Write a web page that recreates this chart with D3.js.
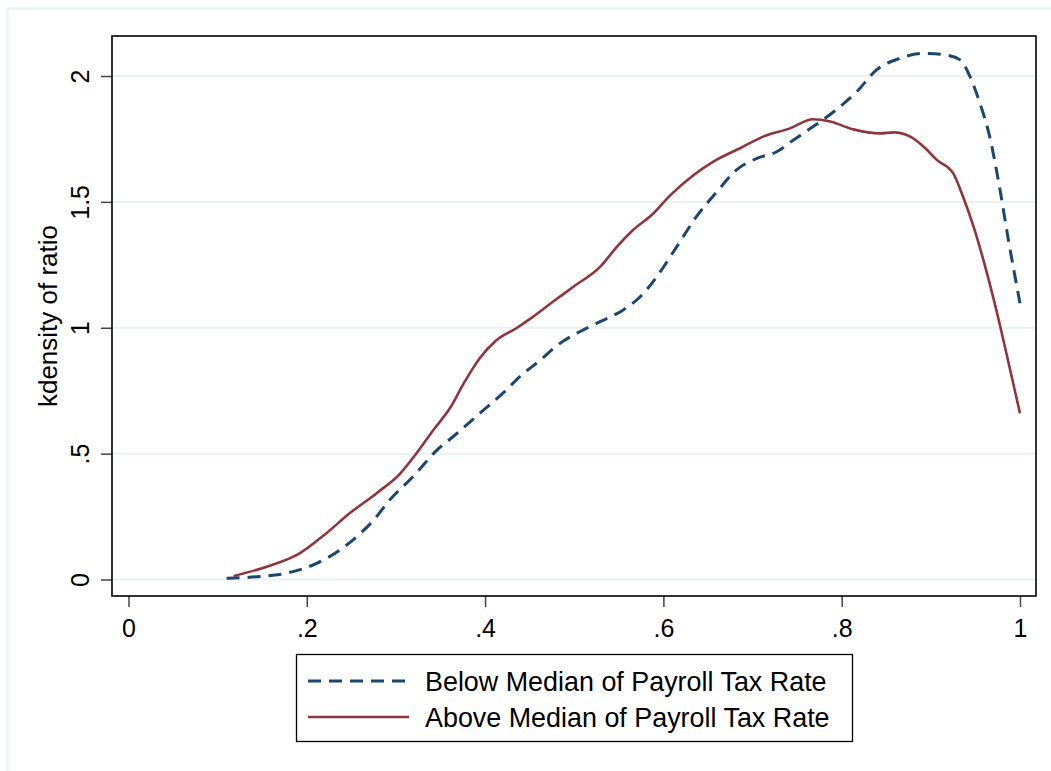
<!DOCTYPE html>
<html>
<head>
<meta charset="utf-8">
<script src="https://cdn.jsdelivr.net/npm/d3@7/dist/d3.min.js"></script>
<style>
  html, body { margin: 0; padding: 0; background: #ffffff; }
  svg { display: block; font-family: Arial, "Liberation Sans", Helvetica, sans-serif; }
</style>
</head>
<body>
<svg id="chart" width="1051" height="771"></svg>
<script>
// Kernel density of ratio, split at the median payroll tax rate
const belowX = [0.110, 0.144, 0.177, 0.211, 0.237, 0.256, 0.275, 0.293, 0.319, 0.346,
                0.364, 0.394, 0.420, 0.439, 0.462, 0.484, 0.506, 0.529, 0.555, 0.574,
                0.592, 0.615, 0.637, 0.660, 0.682, 0.705, 0.727, 0.746, 0.768, 0.791,
                0.817, 0.839, 0.865, 0.892, 0.918, 0.933, 0.944, 0.955, 0.966, 0.977,
                0.987, 1.000];
const belowY = [0.005, 0.011, 0.025, 0.064, 0.117, 0.170, 0.236, 0.316, 0.408, 0.514,
                0.567, 0.660, 0.740, 0.806, 0.872, 0.938, 0.984, 1.024, 1.071, 1.123,
                1.200, 1.322, 1.441, 1.540, 1.627, 1.673, 1.699, 1.746, 1.799, 1.858,
                1.938, 2.024, 2.070, 2.090, 2.083, 2.064, 1.997, 1.892, 1.759, 1.560,
                1.349, 1.097];

const aboveX = [0.118, 0.155, 0.192, 0.222, 0.248, 0.278, 0.305, 0.323, 0.342, 0.361,
                0.376, 0.394, 0.413, 0.435, 0.454, 0.476, 0.499, 0.529, 0.548, 0.566,
                0.589, 0.607, 0.634, 0.656, 0.686, 0.712, 0.742, 0.768, 0.787, 0.813,
                0.843, 0.858, 0.877, 0.892, 0.907, 0.925, 0.936, 0.948, 0.963, 0.977,
                0.989, 1.000];
const aboveY = [0.014, 0.051, 0.104, 0.184, 0.263, 0.342, 0.422, 0.501, 0.594, 0.683,
                0.779, 0.879, 0.951, 0.998, 1.044, 1.103, 1.163, 1.242, 1.322, 1.388,
                1.455, 1.524, 1.607, 1.660, 1.713, 1.759, 1.792, 1.828, 1.819, 1.788,
                1.772, 1.776, 1.759, 1.719, 1.666, 1.614, 1.521, 1.401, 1.216, 1.018,
                0.832, 0.660];

const xTicks = [0, 0.2, 0.4, 0.6, 0.8, 1];
const xTickLabels = ["0", ".2", ".4", ".6", ".8", "1"];
const yTicks = [0, 0.5, 1, 1.5, 2];
const yTickLabels = ["0", ".5", "1", "1.5", "2"];

const seriesNames = ["Below Median of Payroll Tax Rate", "Above Median of Payroll Tax Rate"];
const yTitle = "kdensity of ratio";

const NAVY = "#1a476f";
const MAROON = "#90353b";
const GRID = "#eaf2f3";

const svg = d3.select("#chart");

// outer graph region frame
svg.append("rect")
  .attr("x", 7.5).attr("y", 8.5)
  .attr("width", 1060).attr("height", 780)
  .attr("fill", "#ffffff")
  .attr("stroke", GRID).attr("stroke-width", 2);

const plot = { left: 112, top: 36, right: 1036, bottom: 596 };

const x = d3.scaleLinear().domain([0, 1]).range([128.5, 1020]);
const y = d3.scaleLinear().domain([0, 2]).range([579.5, 76]);

// gridlines
svg.append("g")
  .selectAll("line")
  .data(yTicks)
  .join("line")
  .attr("x1", plot.left).attr("x2", plot.right)
  .attr("y1", d => y(d)).attr("y2", d => y(d))
  .attr("stroke", GRID).attr("stroke-width", 2);

// y axis
const yAxis = d3.axisLeft(y)
  .tickValues(yTicks)
  .tickFormat((d, i) => yTickLabels[i])
  .tickSize(11)
  .tickPadding(0);
const gy = svg.append("g")
  .attr("transform", `translate(${plot.left},0)`)
  .call(yAxis);
gy.select(".domain").remove();
gy.selectAll(".tick line").attr("stroke", "#444").attr("stroke-width", 1.5);
gy.selectAll(".tick text")
  .attr("x", 0).attr("y", 0).attr("dy", null)
  .attr("text-anchor", "middle")
  .attr("transform", "translate(-23,0) rotate(-90)")
  .attr("font-size", 25)
  .attr("fill", "#000")
  .style("font-family", "Arial, 'Liberation Sans', sans-serif");

// x axis
const xAxis = d3.axisBottom(x)
  .tickValues(xTicks)
  .tickFormat((d, i) => xTickLabels[i])
  .tickSize(11)
  .tickPadding(0);
const gx = svg.append("g")
  .attr("transform", `translate(0,${plot.bottom})`)
  .call(xAxis);
gx.select(".domain").remove();
gx.selectAll(".tick line").attr("stroke", "#444").attr("stroke-width", 1.5);
gx.selectAll(".tick text")
  .attr("y", 41).attr("dy", null)
  .attr("font-size", 25)
  .attr("fill", "#000")
  .style("font-family", "Arial, 'Liberation Sans', sans-serif");

// plot frame
svg.append("rect")
  .attr("x", plot.left).attr("y", plot.top)
  .attr("width", plot.right - plot.left).attr("height", plot.bottom - plot.top)
  .attr("fill", "none").attr("stroke", "#000").attr("stroke-width", 1.6);

// y title
svg.append("text")
  .attr("transform", `translate(57,${(plot.top + plot.bottom) / 2}) rotate(-90)`)
  .attr("text-anchor", "middle")
  .attr("font-size", 26)
  .attr("fill", "#000")
  .text(yTitle);

// density curves
const line = d3.line()
  .x(d => x(d[0]))
  .y(d => y(d[1]))
  .curve(d3.curveMonotoneX);

const below = belowX.map((v, i) => [v, belowY[i]]);
const above = aboveX.map((v, i) => [v, aboveY[i]]);

svg.append("path")
  .datum(below)
  .attr("d", line)
  .attr("fill", "none")
  .attr("stroke", NAVY)
  .attr("stroke-width", 3)
  .attr("stroke-dasharray", "13,8");

svg.append("path")
  .datum(above)
  .attr("d", line)
  .attr("fill", "none")
  .attr("stroke", MAROON)
  .attr("stroke-width", 2.6);

// legend
const legend = svg.append("g");
legend.append("rect")
  .attr("x", 296.5).attr("y", 654.5)
  .attr("width", 556).attr("height", 87)
  .attr("fill", "#fff").attr("stroke", "#000").attr("stroke-width", 1.3);

const legendItems = [
  { name: seriesNames[0], color: NAVY, dash: "13,8", width: 3, y: 681 },
  { name: seriesNames[1], color: MAROON, dash: null, width: 2.6, y: 717 }
];
legendItems.forEach(it => {
  legend.append("line")
    .attr("x1", 308).attr("x2", 409)
    .attr("y1", it.y).attr("y2", it.y)
    .attr("stroke", it.color).attr("stroke-width", it.width)
    .attr("stroke-dasharray", it.dash);
  legend.append("text")
    .attr("x", 425).attr("y", it.y + 9.5)
    .attr("font-size", 26.9)
    .attr("fill", "#000")
    .text(it.name);
});
</script>
</body>
</html>
